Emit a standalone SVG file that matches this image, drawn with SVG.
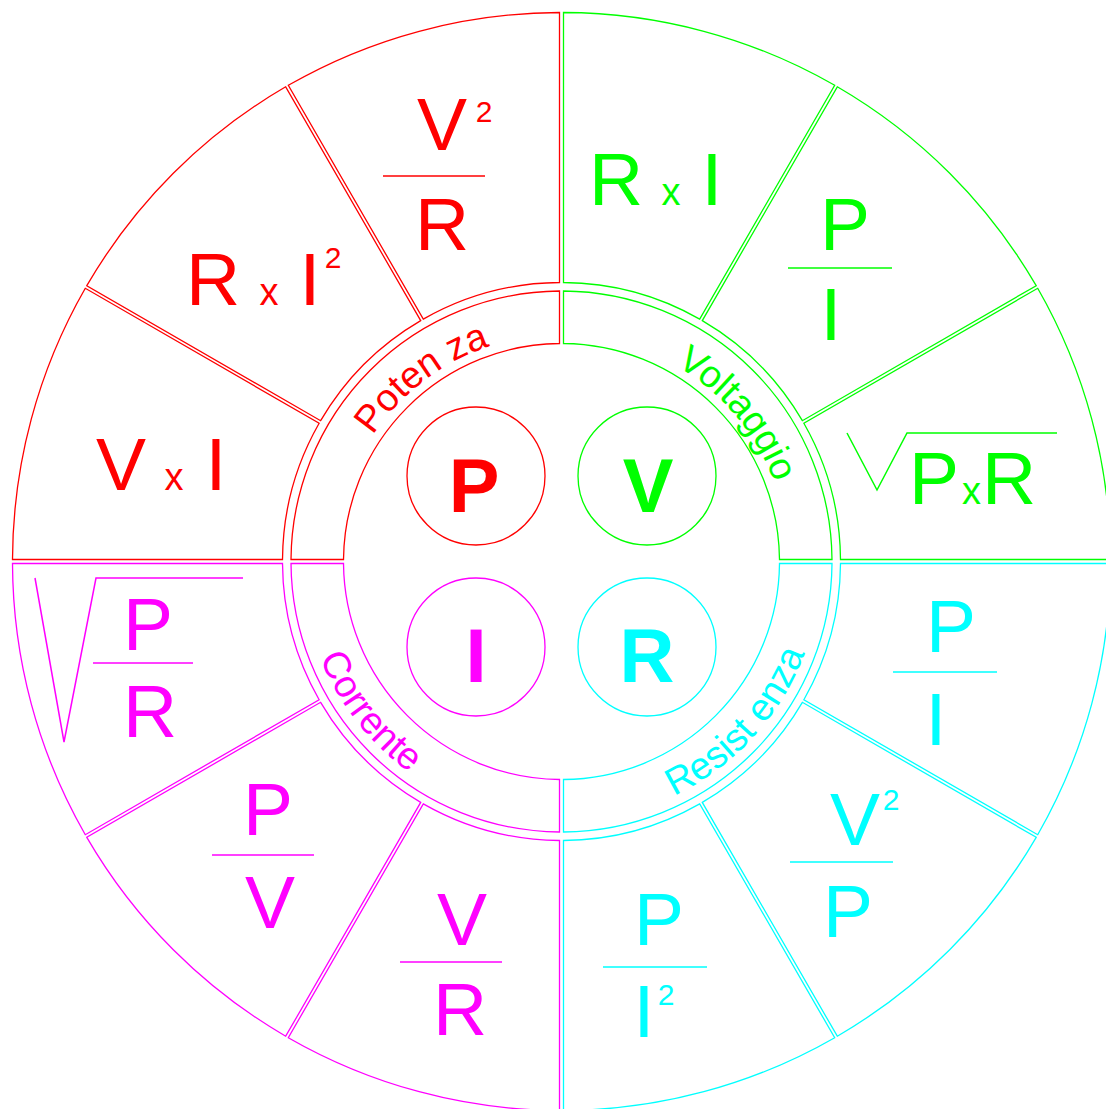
<svg xmlns="http://www.w3.org/2000/svg" xmlns:xlink="http://www.w3.org/1999/xlink" width="1106" height="1109" viewBox="0 0 1106 1109">
<style>
.w{fill:none;stroke-width:1.3}
.big{font-family:"Liberation Sans",Arial,sans-serif;font-size:75px;text-anchor:middle}
.sx{font-family:"Liberation Sans",Arial,sans-serif;font-size:38px;text-anchor:middle}
.sup{font-family:"Liberation Sans",Arial,sans-serif;font-size:30px;text-anchor:middle}
.ctr{font-family:"Liberation Sans",Arial,sans-serif;font-size:76px;font-weight:bold;text-anchor:middle}
.arc{font-family:"Liberation Sans",Arial,sans-serif;font-size:38px;text-anchor:middle}
.red{fill:#ff0000}.grn{fill:#00ff00}.mag{fill:#ff00ff}.cyn{fill:#00ffff}
.lr{stroke:#ff0000}.lg{stroke:#00ff00}.lm{stroke:#ff00ff}.lc{stroke:#00ffff}
.fl{stroke-width:1.5;fill:none}
</style>
<defs>
<path id="wA" d="M549,2 A549,549 0 0 1 476.20,273.20 L242.37,138.20 A279,279 0 0 0 279,2 Z"/>
<path id="wB" d="M549,1.5 A549,549 0 0 1 476.20,273.20 L242.37,138.20 A279,279 0 0 0 279,1.5 Z"/>
<path id="wC" d="M549,1.5 A549,549 0 0 1 476.45,272.77 L242.62,137.77 A279,279 0 0 0 279,1.5 Z"/>
<path id="band" d="M270.5,2 A270.5,270.5 0 0 1 2,270.5 L2,218 A218,218 0 0 0 218,2 Z"/>
<path id="arcOut" d="M113.5,-196.59 A227,227 0 0 1 113.5,196.59"/>
<path id="arcIn" d="M130,225.17 A260,260 0 0 0 130,-225.17"/>
</defs>
<rect width="1106" height="1109" fill="#ffffff"/>

<g id="potenza" class="w lr">
<g transform="translate(561.5 561.5)">
<use href="#wA" transform="rotate(180)"/>
<use href="#wB" transform="rotate(210)"/>
<use href="#wC" transform="rotate(240)"/>
<use href="#band" transform="rotate(180)"/>
</g>
<circle cx="476" cy="476" r="69"/>
</g>
<g id="voltaggio" class="w lg">
<g transform="translate(561.5 561.5)">
<use href="#wA" transform="rotate(270)"/>
<use href="#wB" transform="rotate(300)"/>
<use href="#wC" transform="rotate(330)"/>
<use href="#band" transform="rotate(270)"/>
</g>
<circle cx="647" cy="476" r="69"/>
</g>
<g id="resistenza" class="w lc">
<g transform="translate(561.5 561.5)">
<use href="#wA" transform="rotate(0)"/>
<use href="#wB" transform="rotate(30)"/>
<use href="#wC" transform="rotate(60)"/>
<use href="#band" transform="rotate(0)"/>
</g>
<circle cx="647" cy="647" r="69"/>
</g>
<g id="corrente" class="w lm">
<g transform="translate(561.5 561.5)">
<use href="#wA" transform="rotate(90)"/>
<use href="#wB" transform="rotate(120)"/>
<use href="#wC" transform="rotate(150)"/>
<use href="#band" transform="rotate(90)"/>
</g>
<circle cx="476" cy="647" r="69"/>
</g>

<g id="labels">
<g transform="translate(561.5 561.5) rotate(232.7)"><text class="arc red"><textPath href="#arcOut" startOffset="50%">Poten za</textPath></text></g>
<g transform="translate(561.5 561.5) rotate(320)"><text class="arc grn"><textPath href="#arcOut" startOffset="50%">Voltaggio</textPath></text></g>
<g transform="translate(561.5 561.5) rotate(142)"><text class="arc mag"><textPath href="#arcIn" startOffset="50%">Corrente</textPath></text></g>
<g transform="translate(561.5 561.5) rotate(42.5)"><text class="arc cyn"><textPath href="#arcIn" startOffset="50%">Resist enza</textPath></text></g>
<text class="ctr red" x="474" y="512">P</text>
<text class="ctr grn" x="648" y="512">V</text>
<text class="ctr mag" x="476" y="682">I</text>
<text class="ctr cyn" x="647" y="682">R</text>
</g>

<g id="red-formulas">
<text class="big red" x="442" y="150">V</text>
<text class="sup red" x="484" y="122">2</text>
<line class="fl lr" x1="383" y1="176" x2="485" y2="176"/>
<text class="big red" x="442" y="250">R</text>
<text class="big red" x="213" y="305">R</text>
<text class="sx red" x="269" y="305">x</text>
<text class="big red" x="310" y="305">I</text>
<text class="sup red" x="333" y="268">2</text>
<text class="big red" x="121" y="490">V</text>
<text class="sx red" x="174" y="490">x</text>
<text class="big red" x="216" y="490">I</text>
</g>
<g id="green-formulas">
<text class="big grn" x="616" y="205">R</text>
<text class="sx grn" x="671" y="205">x</text>
<text class="big grn" x="712" y="205">I</text>
<text class="big grn" x="845" y="250">P</text>
<line class="fl lg" x1="788" y1="268" x2="892" y2="268"/>
<text class="big grn" x="831" y="340">I</text>
<polyline class="fl lg" points="847,433 877,490 907,433 1057,433"/>
<text class="big grn" x="934" y="504">P</text>
<text class="sx grn" x="971.5" y="504">x</text>
<text class="big grn" x="1009" y="504">R</text>
</g>
<g id="magenta-formulas">
<polyline class="fl lm" points="35,578 64,742 96,578 243,578"/>
<text class="big mag" x="148" y="650">P</text>
<line class="fl lm" x1="93" y1="663" x2="193" y2="663"/>
<text class="big mag" x="150" y="737">R</text>
<text class="big mag" x="268" y="835">P</text>
<line class="fl lm" x1="212" y1="855" x2="314" y2="855"/>
<text class="big mag" x="270" y="928">V</text>
<text class="big mag" x="462" y="945">V</text>
<line class="fl lm" x1="400" y1="962" x2="502" y2="962"/>
<text class="big mag" x="460" y="1035">R</text>
</g>
<g id="cyan-formulas">
<text class="big cyn" x="951" y="652">P</text>
<line class="fl lc" x1="893" y1="672" x2="997" y2="672"/>
<text class="big cyn" x="936" y="745">I</text>
<text class="big cyn" x="855" y="845">V</text>
<text class="sup cyn" x="891" y="810">2</text>
<line class="fl lc" x1="790" y1="862" x2="893" y2="862"/>
<text class="big cyn" x="848" y="937">P</text>
<text class="big cyn" x="659" y="945">P</text>
<line class="fl lc" x1="603" y1="967" x2="707" y2="967"/>
<text class="big cyn" x="644" y="1037">I</text>
<text class="sup cyn" x="666" y="1005">2</text>
</g>
</svg>
